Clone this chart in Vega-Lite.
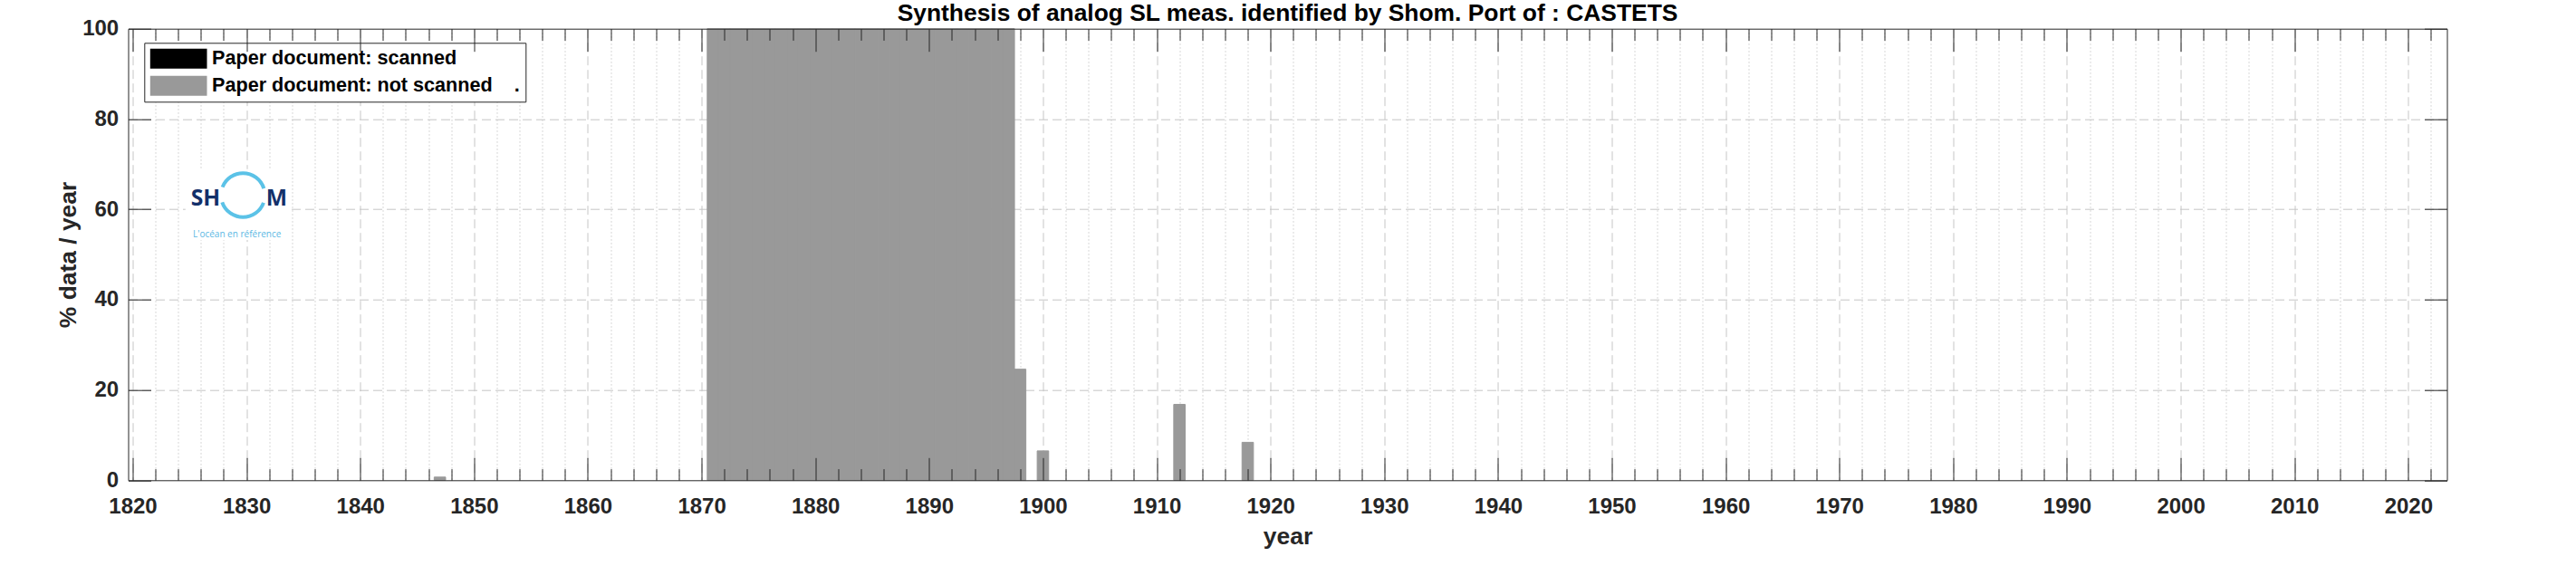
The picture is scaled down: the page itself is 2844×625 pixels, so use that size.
{
  "$schema": "https://vega.github.io/schema/vega-lite/v6.json",
  "width": 2560,
  "height": 498.6,
  "autosize": {"type": "none"},
  "padding": {"left": 141.5, "top": 31.7, "right": 142.5, "bottom": 94.7},
  "background": "white",
  "title": {
    "text": "Synthesis of analog SL meas. identified by Shom. Port of : CASTETS",
    "font": "Liberation Sans",
    "fontSize": 26.4,
    "fontWeight": "bold",
    "color": "#000000",
    "anchor": "middle",
    "frame": "group",
    "baseline": "alphabetic",
    "offset": -30
  },
  "data": {
    "values": [
      {"year": 1847, "pct": 0.7, "status": "not scanned"},
      {"year": 1871, "pct": 100, "status": "not scanned"},
      {"year": 1872, "pct": 100, "status": "not scanned"},
      {"year": 1873, "pct": 100, "status": "not scanned"},
      {"year": 1874, "pct": 100, "status": "not scanned"},
      {"year": 1875, "pct": 100, "status": "not scanned"},
      {"year": 1876, "pct": 100, "status": "not scanned"},
      {"year": 1877, "pct": 100, "status": "not scanned"},
      {"year": 1878, "pct": 100, "status": "not scanned"},
      {"year": 1879, "pct": 100, "status": "not scanned"},
      {"year": 1880, "pct": 100, "status": "not scanned"},
      {"year": 1881, "pct": 100, "status": "not scanned"},
      {"year": 1882, "pct": 100, "status": "not scanned"},
      {"year": 1883, "pct": 100, "status": "not scanned"},
      {"year": 1884, "pct": 100, "status": "not scanned"},
      {"year": 1885, "pct": 100, "status": "not scanned"},
      {"year": 1886, "pct": 100, "status": "not scanned"},
      {"year": 1887, "pct": 100, "status": "not scanned"},
      {"year": 1888, "pct": 100, "status": "not scanned"},
      {"year": 1889, "pct": 100, "status": "not scanned"},
      {"year": 1890, "pct": 100, "status": "not scanned"},
      {"year": 1891, "pct": 100, "status": "not scanned"},
      {"year": 1892, "pct": 100, "status": "not scanned"},
      {"year": 1893, "pct": 100, "status": "not scanned"},
      {"year": 1894, "pct": 100, "status": "not scanned"},
      {"year": 1895, "pct": 100, "status": "not scanned"},
      {"year": 1896, "pct": 100, "status": "not scanned"},
      {"year": 1897, "pct": 100, "status": "not scanned"},
      {"year": 1898, "pct": 24.6, "status": "not scanned"},
      {"year": 1900, "pct": 6.5, "status": "not scanned"},
      {"year": 1912, "pct": 16.8, "status": "not scanned"},
      {"year": 1918, "pct": 8.4, "status": "not scanned"}
    ]
  },
  "resolve": {"axis": {"x": "independent", "y": "independent"}},
  "layer": [
    {
      "mark": {"type": "bar", "width": 12.62, "stroke": "#999999", "strokeWidth": 1, "opacity": 1, "fillOpacity": 1, "strokeOpacity": 1},
      "encoding": {
        "x": {"field": "year", "type": "quantitative",
          "scale": {"domain": [1820, 2023], "nice": false, "zero": false},
          "axis": {"orient": "bottom", "values": [1822,1824,1826,1828,1832,1834,1836,1838,1842,1844,1846,1848,1852,1854,1856,1858,1862,1864,1866,1868,1872,1874,1876,1878,1882,1884,1886,1888,1892,1894,1896,1898,1902,1904,1906,1908,1912,1914,1916,1918,1922,1924,1926,1928,1932,1934,1936,1938,1942,1944,1946,1948,1952,1954,1956,1958,1962,1964,1966,1968,1972,1974,1976,1978,1982,1984,1986,1988,1992,1994,1996,1998,2002,2004,2006,2008,2012,2014,2016,2018,2022],
            "grid": true, "gridDash": [1.5, 2.5], "gridColor": "#cccccc", "gridWidth": 1,
            "ticks": false, "labels": false, "domain": false, "title": null, "zindex": 0}},
        "y": {"field": "pct", "type": "quantitative",
          "scale": {"domain": [0, 100], "nice": false},
          "axis": {"orient": "left", "values": [20, 40, 60, 80],
            "grid": true, "gridDash": [10, 5], "gridColor": "#c6c6c6", "gridWidth": 1,
            "ticks": false, "labels": false, "domain": false, "title": null, "zindex": 0}},
        "color": {"field": "status", "type": "nominal",
          "scale": {"domain": ["scanned", "not scanned"], "range": ["#000000", "#999999"]},
          "legend": {
            "orient": "none", "legendX": 17.8, "legendY": 15.6, "title": null,
            "symbolType": "M-2.85,-1H2.85V1H-2.85Z", "symbolSize": 484,
            "symbolStrokeWidth": 0, "symbolOpacity": 1,
            "symbolOffset": 20.35, "labelOffset": 25.95,
            "labelFont": "Liberation Sans", "labelFontSize": 21.6, "labelFontWeight": "bold",
            "labelColor": "#000000", "labelLimit": 0,
            "labelExpr": "datum.label == 'scanned' ? 'Paper document: scanned' : 'Paper document: not scanned\u00a0\u00a0\u00a0\u00a0.'",
            "rowPadding": 8, "padding": 6.5,
            "strokeColor": "#262626", "fillColor": "#ffffff"
          }}
      }
    },
    {
      "mark": {"type": "bar", "opacity": 0, "width": 1},
      "encoding": {
        "x": {"field": "year", "type": "quantitative",
          "scale": {"domain": [1820, 2023], "nice": false, "zero": false},
          "axis": {"orient": "bottom", "values": [1820,1830,1840,1850,1860,1870,1880,1890,1900,1910,1920,1930,1940,1950,1960,1970,1980,1990,2000,2010,2020],
            "grid": true, "gridDash": [10, 5], "gridColor": "#c6c6c6", "gridWidth": 1,
            "ticks": false, "labels": false, "domain": false, "title": null, "zindex": 0}},
        "y": {"field": "pct", "type": "quantitative",
          "scale": {"domain": [0, 100], "nice": false},
          "axis": {"orient": "left", "values": [0, 20, 40, 60, 80, 100],
            "grid": false, "ticks": false, "domain": false, "labels": true,
            "labelFont": "Liberation Sans", "labelFontSize": 24, "labelFontWeight": "bold",
            "labelColor": "#262626", "labelPadding": 10.8, "labelOverlap": false, "labelFlush": false,
            "title": "% data / year", "titleFont": "Liberation Sans", "titleFontSize": 26.4,
            "titleFontWeight": "bold", "titleColor": "#262626", "titlePadding": 1, "zindex": 1}}
      }
    },
    {
      "mark": {"type": "bar", "opacity": 0, "width": 1},
      "encoding": {
        "x": {"field": "year", "type": "quantitative",
          "scale": {"domain": [1820, 2023], "nice": false, "zero": false},
          "axis": {"orient": "bottom", "values": [1820,1830,1840,1850,1860,1870,1880,1890,1900,1910,1920,1930,1940,1950,1960,1970,1980,1990,2000,2010,2020],
            "format": "d",
            "grid": false, "ticks": false, "labels": true, "labelFlush": false, "labelOverlap": false,
            "labelFont": "Liberation Sans", "labelFontSize": 24, "labelFontWeight": "bold",
            "labelColor": "#262626", "labelPadding": 17.4,
            "domain": true, "domainColor": "#262626", "domainWidth": 1,
            "title": "year", "titleFont": "Liberation Sans", "titleFontSize": 26.4,
            "titleFontWeight": "bold", "titleColor": "#262626", "titlePadding": 8, "zindex": 1}},
        "y": {"field": "pct", "type": "quantitative",
          "scale": {"domain": [0, 100], "nice": false},
          "axis": {"orient": "left", "values": [0, 20, 40, 60, 80, 100],
            "grid": false, "ticks": true, "tickSize": -25, "tickColor": "#262626", "tickWidth": 1,
            "labels": false, "domain": true, "domainColor": "#262626", "domainWidth": 1,
            "title": null, "zindex": 1}}
      }
    },
    {
      "mark": {"type": "bar", "opacity": 0, "width": 1},
      "encoding": {
        "x": {"field": "year", "type": "quantitative",
          "scale": {"domain": [1820, 2023], "nice": false, "zero": false},
          "axis": {"orient": "bottom", "values": [1822,1824,1826,1828,1832,1834,1836,1838,1842,1844,1846,1848,1852,1854,1856,1858,1862,1864,1866,1868,1872,1874,1876,1878,1882,1884,1886,1888,1892,1894,1896,1898,1902,1904,1906,1908,1912,1914,1916,1918,1922,1924,1926,1928,1932,1934,1936,1938,1942,1944,1946,1948,1952,1954,1956,1958,1962,1964,1966,1968,1972,1974,1976,1978,1982,1984,1986,1988,1992,1994,1996,1998,2002,2004,2006,2008,2012,2014,2016,2018,2022],
            "grid": false, "ticks": true, "tickSize": -12.7, "tickColor": "#262626", "tickWidth": 1,
            "labels": false, "domain": false, "title": null, "zindex": 1}},
        "y": {"field": "pct", "type": "quantitative",
          "scale": {"domain": [0, 100], "nice": false},
          "axis": {"orient": "right", "values": [0, 20, 40, 60, 80, 100],
            "grid": false, "ticks": true, "tickSize": -25, "tickColor": "#262626", "tickWidth": 1,
            "labels": false, "domain": true, "domainColor": "#262626", "domainWidth": 1,
            "title": null, "zindex": 1}}
      }
    },
    {
      "mark": {"type": "bar", "opacity": 0, "width": 1},
      "encoding": {
        "x": {"field": "year", "type": "quantitative",
          "scale": {"domain": [1820, 2023], "nice": false, "zero": false},
          "axis": {"orient": "bottom", "values": [1820,1830,1840,1850,1860,1870,1880,1890,1900,1910,1920,1930,1940,1950,1960,1970,1980,1990,2000,2010,2020],
            "grid": false, "ticks": true, "tickSize": -25, "tickColor": "#262626", "tickWidth": 1,
            "labels": false, "domain": false, "title": null, "zindex": 1}},
        "y": {"field": "pct", "type": "quantitative",
          "scale": {"domain": [0, 100], "nice": false}, "axis": null}
      }
    },
    {
      "mark": {"type": "bar", "opacity": 0, "width": 1},
      "encoding": {
        "x": {"field": "year", "type": "quantitative",
          "scale": {"domain": [1820, 2023], "nice": false, "zero": false},
          "axis": {"orient": "top", "values": [1822,1824,1826,1828,1832,1834,1836,1838,1842,1844,1846,1848,1852,1854,1856,1858,1862,1864,1866,1868,1872,1874,1876,1878,1882,1884,1886,1888,1892,1894,1896,1898,1902,1904,1906,1908,1912,1914,1916,1918,1922,1924,1926,1928,1932,1934,1936,1938,1942,1944,1946,1948,1952,1954,1956,1958,1962,1964,1966,1968,1972,1974,1976,1978,1982,1984,1986,1988,1992,1994,1996,1998,2002,2004,2006,2008,2012,2014,2016,2018,2022],
            "grid": false, "ticks": true, "tickSize": -12.7, "tickColor": "#262626", "tickWidth": 1,
            "labels": false, "domain": true, "domainColor": "#262626", "domainWidth": 1,
            "title": null, "zindex": 1}},
        "y": {"field": "pct", "type": "quantitative",
          "scale": {"domain": [0, 100], "nice": false}, "axis": null}
      }
    },
    {
      "mark": {"type": "bar", "opacity": 0, "width": 1},
      "encoding": {
        "x": {"field": "year", "type": "quantitative",
          "scale": {"domain": [1820, 2023], "nice": false, "zero": false},
          "axis": {"orient": "top", "values": [1820,1830,1840,1850,1860,1870,1880,1890,1900,1910,1920,1930,1940,1950,1960,1970,1980,1990,2000,2010,2020],
            "grid": false, "ticks": true, "tickSize": -25, "tickColor": "#262626", "tickWidth": 1,
            "labels": false, "domain": false, "title": null, "zindex": 1}},
        "y": {"field": "pct", "type": "quantitative",
          "scale": {"domain": [0, 100], "nice": false}, "axis": null}
      }
    },
    {
      "data": {"values": [{"part": "logo background"}]},
      "mark": {"type": "rect", "fill": "#ffffff"},
      "encoding": {
        "x": {"datum": 1824.64, "type": "quantitative", "scale": {"domain": [1820, 2023], "nice": false, "zero": false}, "axis": null},
        "x2": {"datum": 1833.85},
        "y": {"datum": 68.9, "type": "quantitative", "scale": {"domain": [0, 100], "nice": false}, "axis": null},
        "y2": {"datum": 53.2}
      }
    },
    {
      "data": {"values": [{"part": "logo ring"}]},
      "mark": {"type": "point", "shape": "circle", "filled": false, "stroke": "#5bc2e7", "strokeWidth": 4, "size": 2352, "opacity": 1, "strokeDash": [59.2, 17], "strokeDashOffset": 67.7},
      "encoding": {
        "x": {"datum": 1829.69, "type": "quantitative", "scale": {"domain": [1820, 2023], "nice": false, "zero": false}, "axis": null},
        "y": {"datum": 63.14, "type": "quantitative", "scale": {"domain": [0, 100], "nice": false}, "axis": null}
      }
    },
    {
      "data": {"values": [{"part": "logo SH"}]},
      "mark": {"type": "text", "align": "left", "baseline": "alphabetic", "font": "Open Sans", "fontWeight": "bold", "fontSize": 24.7, "color": "#13306a"},
      "encoding": {
        "x": {"datum": 1825.11, "type": "quantitative", "scale": {"domain": [1820, 2023], "nice": false, "zero": false}, "axis": null},
        "y": {"datum": 60.89, "type": "quantitative", "scale": {"domain": [0, 100], "nice": false}, "axis": null},
        "text": {"value": "SH"}
      }
    },
    {
      "data": {"values": [{"part": "logo M"}]},
      "mark": {"type": "text", "align": "left", "baseline": "alphabetic", "font": "Open Sans", "fontWeight": "bold", "fontSize": 24.7, "color": "#13306a"},
      "encoding": {
        "x": {"datum": 1831.72, "type": "quantitative", "scale": {"domain": [1820, 2023], "nice": false, "zero": false}, "axis": null},
        "y": {"datum": 60.89, "type": "quantitative", "scale": {"domain": [0, 100], "nice": false}, "axis": null},
        "text": {"value": "M"}
      }
    },
    {
      "data": {"values": [{"part": "logo tagline"}]},
      "mark": {"type": "text", "align": "center", "baseline": "middle", "font": "Open Sans", "fontSize": 10, "color": "#5ab7e3"},
      "encoding": {
        "x": {"datum": 1829.17, "type": "quantitative", "scale": {"domain": [1820, 2023], "nice": false, "zero": false}, "axis": null},
        "y": {"datum": 54.4, "type": "quantitative", "scale": {"domain": [0, 100], "nice": false}, "axis": null},
        "text": {"value": "L'océan en référence"}
      }
    }
  ],
  "config": {
    "view": {"stroke": null},
    "font": "Liberation Sans"
  }
}
